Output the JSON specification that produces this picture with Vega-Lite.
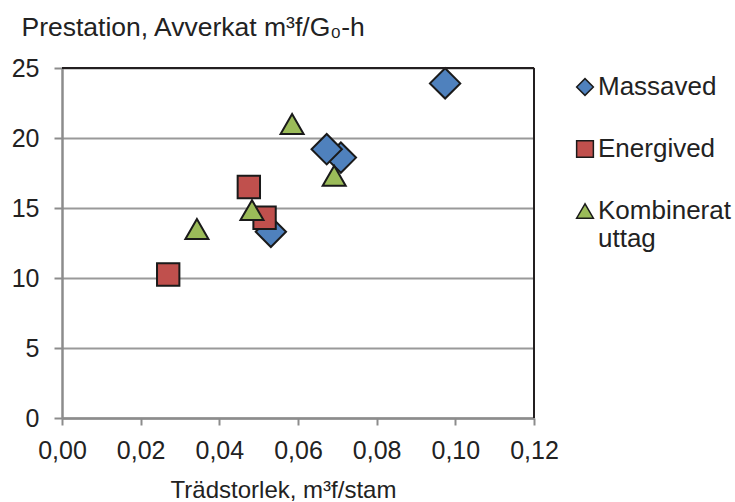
{
  "$schema": "https://vega.github.io/schema/vega-lite/v6.json",
  "width": 472,
  "height": 350,
  "autosize": {"type": "none"},
  "padding": {"left": 62, "top": 68, "right": 201, "bottom": 84},
  "background": "white",
  "config": {
    "font": "Liberation Sans",
    "view": {"stroke": null},
    "axis": {"labelColor": "#222222", "titleColor": "#222222", "labelFont": "Liberation Sans", "titleFont": "Liberation Sans"},
    "legend": {"labelFont": "Liberation Sans"}
  },
  "data": {
    "values": [
      {"serie": "Massaved", "x": 0.0974, "y": 23.9},
      {"serie": "Massaved", "x": 0.0709, "y": 18.6},
      {"serie": "Massaved", "x": 0.0673, "y": 19.2},
      {"serie": "Massaved", "x": 0.0531, "y": 13.3},
      {"serie": "Energived", "x": 0.0475, "y": 16.5},
      {"serie": "Energived", "x": 0.0515, "y": 14.3},
      {"serie": "Energived", "x": 0.0270, "y": 10.25},
      {"serie": "Kombinerat uttag", "x": 0.0585, "y": 21.0},
      {"serie": "Kombinerat uttag", "x": 0.0692, "y": 17.3},
      {"serie": "Kombinerat uttag", "x": 0.0483, "y": 14.85},
      {"serie": "Kombinerat uttag", "x": 0.0343, "y": 13.5}
    ]
  },
  "encoding": {
    "x": {
      "field": "x", "type": "quantitative",
      "scale": {"domain": [0, 0.12], "nice": false, "zero": true},
      "axis": {
        "values": [0, 0.02, 0.04, 0.06, 0.08, 0.1, 0.12],
        "labelExpr": "replace(format(datum.value, '.2f'), '.', ',')",
        "labelFontSize": 25,
        "labelBaseline": "alphabetic",
        "labelPadding": 33,
        "tickSize": 7,
        "tickColor": "#8c8c8c",
        "tickWidth": 2,
        "domainColor": "#8c8c8c",
        "domainWidth": 2.5,
        "grid": false,
        "title": "Trädstorlek, m³f/stam",
        "titleFontSize": 24,
        "titleFontWeight": "normal",
        "titleBaseline": "alphabetic",
        "titleX": 221,
        "titleY": 79,
        "labelFlush": false
      }
    },
    "y": {
      "field": "y", "type": "quantitative",
      "scale": {"domain": [0, 25], "nice": false},
      "axis": {
        "values": [0, 5, 10, 15, 20, 25],
        "labelFontSize": 25,
        "labelPadding": 15,
        "labelBaseline": "middle",
        "tickSize": 8,
        "tickColor": "#8c8c8c",
        "tickWidth": 2,
        "domainColor": "#8c8c8c",
        "domainWidth": 2.5,
        "grid": true,
        "gridColor": "#999999",
        "gridWidth": 2,
        "title": "Prestation, Avverkat m³f/G₀-h",
        "titleAngle": 0,
        "titleAlign": "left",
        "titleBaseline": "alphabetic",
        "titleX": -41,
        "titleY": -33,
        "titleFontSize": 26.5,
        "titleFontWeight": "normal",
        "labelFlush": false
      }
    },
    "color": {
      "field": "serie", "type": "nominal",
      "scale": {"domain": ["Massaved", "Energived", "Kombinerat uttag"], "range": ["#4F81BD", "#C0504D", "#9BBB59"]},
      "legend": {
        "title": null,
        "orient": "right",
        "offset": 32,
        "padding": 6,
        "labelFontSize": 26,
        "labelColor": "#222222",
        "labelLimit": 250,
        "labelOffset": 0,
        "symbolSize": 280,
        "symbolStrokeColor": "#1a1a1a",
        "symbolStrokeWidth": 1.5,
        "rowPadding": 36,
        "labelBaseline": "middle",
        "labelExpr": "datum.label == 'Kombinerat uttag' ? ['Kombinerat', 'uttag'] : datum.label"
      }
    },
    "shape": {
      "field": "serie", "type": "nominal",
      "scale": {"domain": ["Massaved", "Energived", "Kombinerat uttag"], "range": ["diamond", "square", "triangle-up"]}
    }
  },
  "layer": [
    {
      "transform": [{"filter": "datum.serie == 'Massaved'"}],
      "mark": {"type": "point", "filled": true, "opacity": 1, "stroke": "#1a1a1a", "strokeWidth": 2, "size": 920}
    },
    {
      "transform": [{"filter": "datum.serie == 'Energived'"}],
      "mark": {"type": "point", "filled": true, "opacity": 1, "stroke": "#1a1a1a", "strokeWidth": 2, "size": 500}
    },
    {
      "transform": [{"filter": "datum.serie == 'Kombinerat uttag'"}],
      "mark": {"type": "point", "filled": true, "opacity": 1, "stroke": "#1a1a1a", "strokeWidth": 2, "size": 529}
    },
    {
      "mark": {"type": "rule", "color": "#231F20", "strokeWidth": 2},
      "encoding": {"x": {"datum": 0.12, "type": "quantitative"}, "y": null, "color": null, "shape": null}
    },
    {
      "mark": {"type": "rule", "color": "#231F20", "strokeWidth": 2},
      "encoding": {"y": {"datum": 25, "type": "quantitative"}, "x": null, "color": null, "shape": null}
    }
  ]
}
